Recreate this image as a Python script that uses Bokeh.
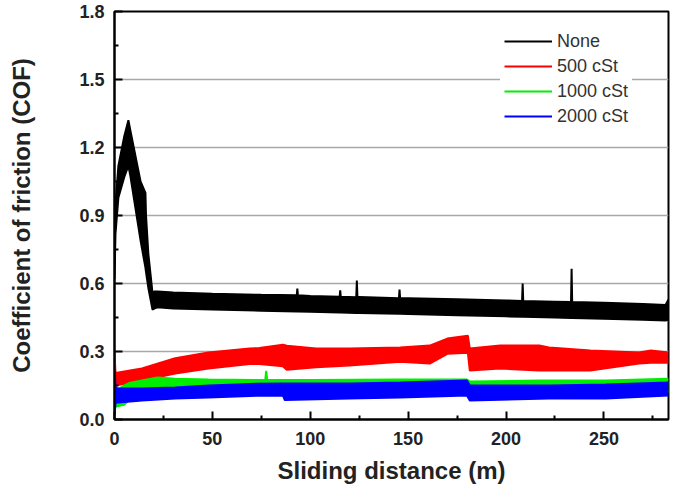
from bokeh.plotting import figure
from bokeh.models import (ColumnDataSource, FixedTicker, Legend, LegendItem,
                          Range1d)
from bokeh.embed import file_html
from bokeh.resources import INLINE

# ---- data: coefficient of friction vs sliding distance (band envelopes) ----
# No lubricant
none_dist = [0, 0.5, 2, 5, 7.1, 8, 13.3, 15.8, 16.1, 17.3, 19.4, 20.5, 22, 30,
             50, 75, 93.1, 93.4, 93.7, 100, 115, 115.3, 115.6, 123.5, 123.8,
             124.1, 125, 145.3, 145.6, 145.9, 150, 175, 200, 208.2, 208.5,
             208.8, 225, 233.2, 233.5, 233.8, 250, 270, 281.5, 283]
none_upper = [0.68, 0.95, 1.12, 1.25, 1.32, 1.28, 1.05, 1.00, 0.90, 0.73, 0.56,
              0.565, 0.565, 0.56, 0.555, 0.55, 0.548, 0.578, 0.548, 0.545,
              0.541, 0.57, 0.541, 0.539, 0.613, 0.539, 0.54, 0.535, 0.573,
              0.535, 0.535, 0.53, 0.525, 0.523, 0.60, 0.523, 0.52, 0.518,
              0.665, 0.518, 0.515, 0.51, 0.505, 0.53]
none_lower = [0.62, 0.82, 0.98, 1.07, 1.12, 1.08, 0.79, 0.67, 0.65, 0.58,
              0.485, 0.49, 0.495, 0.49, 0.485, 0.48, 0.477, 0.477, 0.477,
              0.475, 0.472, 0.472, 0.472, 0.47, 0.47, 0.47, 0.47, 0.466,
              0.466, 0.466, 0.465, 0.46, 0.455, 0.453, 0.453, 0.453, 0.45,
              0.448, 0.448, 0.448, 0.445, 0.44, 0.437, 0.44]

# 500 cSt
c500_dist = [0, 0.5, 14, 31, 48, 69, 74, 86, 88, 103, 120, 146, 161, 170,
             180.5, 181.5, 197, 217, 222, 243, 268, 274, 283]
c500_upper = [0.30, 0.205, 0.225, 0.27, 0.296, 0.313, 0.315, 0.33, 0.325,
              0.313, 0.313, 0.318, 0.326, 0.357, 0.37, 0.313, 0.326, 0.326,
              0.318, 0.304, 0.296, 0.304, 0.296]
c500_lower = [0.15, 0.15, 0.172, 0.203, 0.225, 0.245, 0.245, 0.235, 0.22,
              0.23, 0.238, 0.255, 0.247, 0.29, 0.295, 0.216, 0.225, 0.216,
              0.216, 0.216, 0.247, 0.25, 0.25]

# 1000 cSt
c1000_dist = [0, 2, 5, 8, 14, 22, 31, 48, 77, 77.5, 78, 100, 146, 180, 181.5,
              217, 251, 283]
c1000_upper = [0.12, 0.135, 0.15, 0.162, 0.172, 0.185, 0.18, 0.176, 0.174,
               0.215, 0.174, 0.174, 0.176, 0.176, 0.168, 0.172, 0.172, 0.18]
c1000_lower = [0.055, 0.06, 0.065, 0.09, 0.10, 0.105, 0.11, 0.115, 0.12, 0.12,
               0.12, 0.12, 0.12, 0.125, 0.11, 0.11, 0.115, 0.12]

# 2000 cSt
c2000_dist = [0, 0.6, 2, 14, 31, 48, 69, 86, 87, 120, 146, 180, 181.5, 222,
              251, 283]
c2000_upper = [0.22, 0.14, 0.137, 0.137, 0.141, 0.15, 0.157, 0.159, 0.159,
               0.159, 0.163, 0.172, 0.15, 0.15, 0.154, 0.163]
c2000_lower = [0.02, 0.075, 0.075, 0.084, 0.093, 0.097, 0.104, 0.106, 0.086,
               0.093, 0.097, 0.106, 0.084, 0.093, 0.093, 0.106]

series_names = ["None", "500 cSt", "1000 cSt", "2000 cSt"]
series_colors = ["#000000", "#ff0000", "#00ee00", "#0000ff"]

x_ticks = [0, 50, 100, 150, 200, 250]
x_minor = [25, 75, 125, 175, 225, 275]
y_ticks = [0.0, 0.3, 0.6, 0.9, 1.2, 1.5, 1.8]
y_minor = [0.15, 0.45, 0.75, 1.05, 1.35, 1.65]

FONT = "Liberation Sans"

p = figure(width=676, height=489, output_backend="svg", toolbar_location=None,
           x_range=Range1d(0, 283), y_range=Range1d(0, 1.8),
           min_border_left=114, min_border_right=8, min_border_top=11,
           min_border_bottom=70,
           x_axis_label="Sliding distance (m)",
           y_axis_label="Coefficient of friction (COF)")

p.background_fill_color = "white"
p.border_fill_color = "white"
p.outline_line_color = "black"
p.outline_line_width = 2

p.xgrid.visible = False
p.ygrid.ticker = FixedTicker(ticks=y_ticks)
p.ygrid.grid_line_color = "#a8a8a8"
p.ygrid.grid_line_width = 1.5

p.xaxis.ticker = FixedTicker(ticks=x_ticks, minor_ticks=x_minor)
p.yaxis.ticker = FixedTicker(ticks=y_ticks, minor_ticks=y_minor)
p.xaxis.major_label_overrides = {t: str(t) for t in x_ticks}
p.yaxis.major_label_overrides = {t: f"{t:.1f}" for t in y_ticks}

for ax in (p.xaxis[0], p.yaxis[0]):
    ax.axis_line_color = "black"
    ax.axis_line_width = 2
    ax.major_tick_in = 8
    ax.major_tick_out = 0
    ax.minor_tick_in = 4
    ax.minor_tick_out = 0
    ax.major_tick_line_color = "black"
    ax.minor_tick_line_color = "black"
    ax.major_tick_line_width = 2
    ax.minor_tick_line_width = 2
    ax.major_label_text_font = FONT
    ax.major_label_text_font_style = "bold"
    ax.major_label_text_font_size = "18px"
    ax.major_label_text_color = "#222222"
    ax.axis_label_text_font = FONT
    ax.axis_label_text_font_style = "bold"
    ax.axis_label_text_font_size = "24px"
    ax.axis_label_text_color = "#222222"

p.xaxis.major_label_standoff = 12
p.xaxis.axis_label_standoff = 9
p.yaxis.major_label_standoff = 10
p.yaxis.axis_label_standoff = 41

bands = [
    (none_dist, none_upper, none_lower),
    (c500_dist, c500_upper, c500_lower),
    (c1000_dist, c1000_upper, c1000_lower),
    (c2000_dist, c2000_upper, c2000_lower),
]

items = []
for (dist, upper, lower), name, color in zip(bands, series_names, series_colors):
    src = ColumnDataSource(dict(x=dist, upper=upper, lower=lower))
    p.varea(x="x", y1="lower", y2="upper", source=src, fill_color=color)
    edge = p.line(x="x", y="upper", source=src, line_color=color, line_width=2)
    p.line(x="x", y="lower", source=src, line_color=color, line_width=2)
    items.append(LegendItem(label=name, renderers=[edge]))

legend = Legend(items=items, location=(386, 287))
legend.label_text_font = FONT
legend.label_text_font_size = "18px"
legend.label_text_color = "#333333"
legend.glyph_width = 48
legend.glyph_height = 24
legend.label_height = 24
legend.label_standoff = 5
legend.spacing = 1
legend.padding = 4
legend.margin = 0
legend.border_line_alpha = 0
legend.background_fill_color = "white"
legend.background_fill_alpha = 1
p.add_layout(legend)

open("out.html", "w").write(file_html(p, INLINE))
